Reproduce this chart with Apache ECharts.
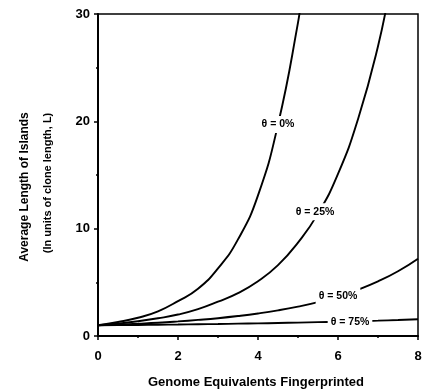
<!DOCTYPE html>
<html>
<head>
<meta charset="utf-8">
<script src="https://cdn.jsdelivr.net/npm/echarts@6/dist/echarts.min.js"></script>
<style>
  html, body { margin: 0; padding: 0; background: #fff; }
  #chart { width: 425px; height: 389px; }
</style>
</head>
<body>
<div id="chart"></div>
<script>
// values (island length in clone units vs coverage)
const theta0X = [0, 0.5, 1, 1.5, 2, 2.5, 3, 3.5, 4, 4.5, 5, 5.1];
const theta0Y = [1, 1.3, 1.7, 2.3, 3.25, 4.4, 6.3, 9.0, 13.1, 19.7, 29.2, 32];

const theta25X = [0, 0.5, 1, 1.5, 2, 2.5, 3, 3.5, 4, 4.5, 5, 5.5, 6, 6.5, 7, 7.3];
const theta25Y = [1, 1.16, 1.37, 1.65, 2.0, 2.5, 3.2, 4.0, 5.1, 6.6, 8.7, 11.4, 15.1, 20.2, 27.0, 32.5];

const theta50X = [0, 0.5, 1, 1.5, 2, 2.5, 3, 3.5, 4, 4.5, 5, 5.5, 6, 6.5, 7, 7.5, 8];
const theta50Y = [1, 1.07, 1.15, 1.24, 1.36, 1.5, 1.66, 1.86, 2.1, 2.39, 2.74, 3.16, 3.68, 4.32, 5.09, 6.03, 7.2];

const theta75X = [0, 0.5, 1, 1.5, 2, 2.5, 3, 3.5, 4, 4.5, 5, 5.5, 6, 6.5, 7, 7.5, 8];
const theta75Y = [1, 1.02, 1.03, 1.05, 1.07, 1.1, 1.12, 1.15, 1.18, 1.21, 1.25, 1.29, 1.33, 1.38, 1.43, 1.49, 1.56];

const seriesNames = ["θ = 0%", "θ = 25%", "θ = 50%", "θ = 75%"];
// where along each curve its label sits (index into its arrays)
const labelIndex = [9, 11, 12, 13];
const labelShift = [[0, 0], [-3, -2], [0, 0], [-8, 1]];

const xTicks = [0, 2, 4, 6, 8];
const yTicks = [0, 10, 20, 30];

const FONT = "Liberation Sans, Arial, sans-serif";

const curves = [
  [theta0X, theta0Y],
  [theta25X, theta25Y],
  [theta50X, theta50Y],
  [theta75X, theta75Y]
];

const myChart = echarts.init(document.getElementById("chart"));

const series = curves.map((c, i) => ({
  name: seriesNames[i],
  type: "line",
  data: c[0].map((x, j) => [x, c[1][j]]),
  smooth: 0.5,
  showSymbol: false,
  symbol: "none",
  lineStyle: { color: "#000", width: 1.9 },
  z: 3
}));

var option = {
  animation: false,
  grid: {
    left: 98,
    right: 7,
    top: 14,
    bottom: 53,
    show: true,
    borderColor: "#000",
    borderWidth: 1.5
  },
  xAxis: {
    type: "value",
    min: xTicks[0],
    max: xTicks[xTicks.length - 1],
    interval: 2,
    axisLine: { lineStyle: { color: "#000", width: 2 } },
    axisTick: { length: 4, lineStyle: { color: "#000", width: 1.5 } },
    minorTick: { show: true, splitNumber: 2, length: 2, lineStyle: { color: "#000", width: 1.5 } },
    axisLabel: { color: "#000", fontWeight: "bold", fontSize: 13, fontFamily: FONT, margin: 14 },
    splitLine: { show: false }
  },
  yAxis: {
    type: "value",
    min: yTicks[0],
    max: yTicks[yTicks.length - 1],
    interval: 10,
    axisLine: { show: true, lineStyle: { color: "#000", width: 2 } },
    axisTick: { show: true, length: 4, lineStyle: { color: "#000", width: 1.5 } },
    minorTick: { show: true, splitNumber: 2, length: 2, lineStyle: { color: "#000", width: 1.5 } },
    axisLabel: { color: "#000", fontWeight: "bold", fontSize: 13, fontFamily: FONT, margin: 8 },
    splitLine: { show: false }
  },
  series: series
};
myChart.setOption(option);

// curve labels sit on the curves with a white box cutting the line
const labels = curves.map((c, i) => {
  const k = labelIndex[i];
  const p = myChart.convertToPixel({ gridIndex: 0 }, [c[0][k], c[1][k]]);
  return {
    type: "text",
    x: p[0] + labelShift[i][0],
    y: p[1] + labelShift[i][1],
    z: 100,
    style: {
      text: seriesNames[i],
      font: "bold 10.5px " + FONT,
      fill: "#000",
      align: "center",
      verticalAlign: "middle",
      backgroundColor: "#fff",
      padding: [3, 3]
    }
  };
});

const titles = [
  {
    type: "text",
    x: 25,
    y: 187,
    rotation: Math.PI / 2,
    style: {
      text: "Average Length of Islands",
      font: "bold 12px " + FONT,
      fill: "#000",
      align: "center",
      verticalAlign: "middle"
    }
  },
  {
    type: "text",
    x: 48,
    y: 183,
    rotation: Math.PI / 2,
    style: {
      text: "(In units of clone length, L)",
      font: "bold 11px " + FONT,
      fill: "#000",
      align: "center",
      verticalAlign: "middle"
    }
  },
  {
    type: "text",
    x: 256,
    y: 382,
    style: {
      text: "Genome Equivalents Fingerprinted",
      font: "bold 13px " + FONT,
      fill: "#000",
      align: "center",
      verticalAlign: "middle"
    }
  }
];

myChart.setOption({ graphic: labels.concat(titles) });
</script>
</body>
</html>
